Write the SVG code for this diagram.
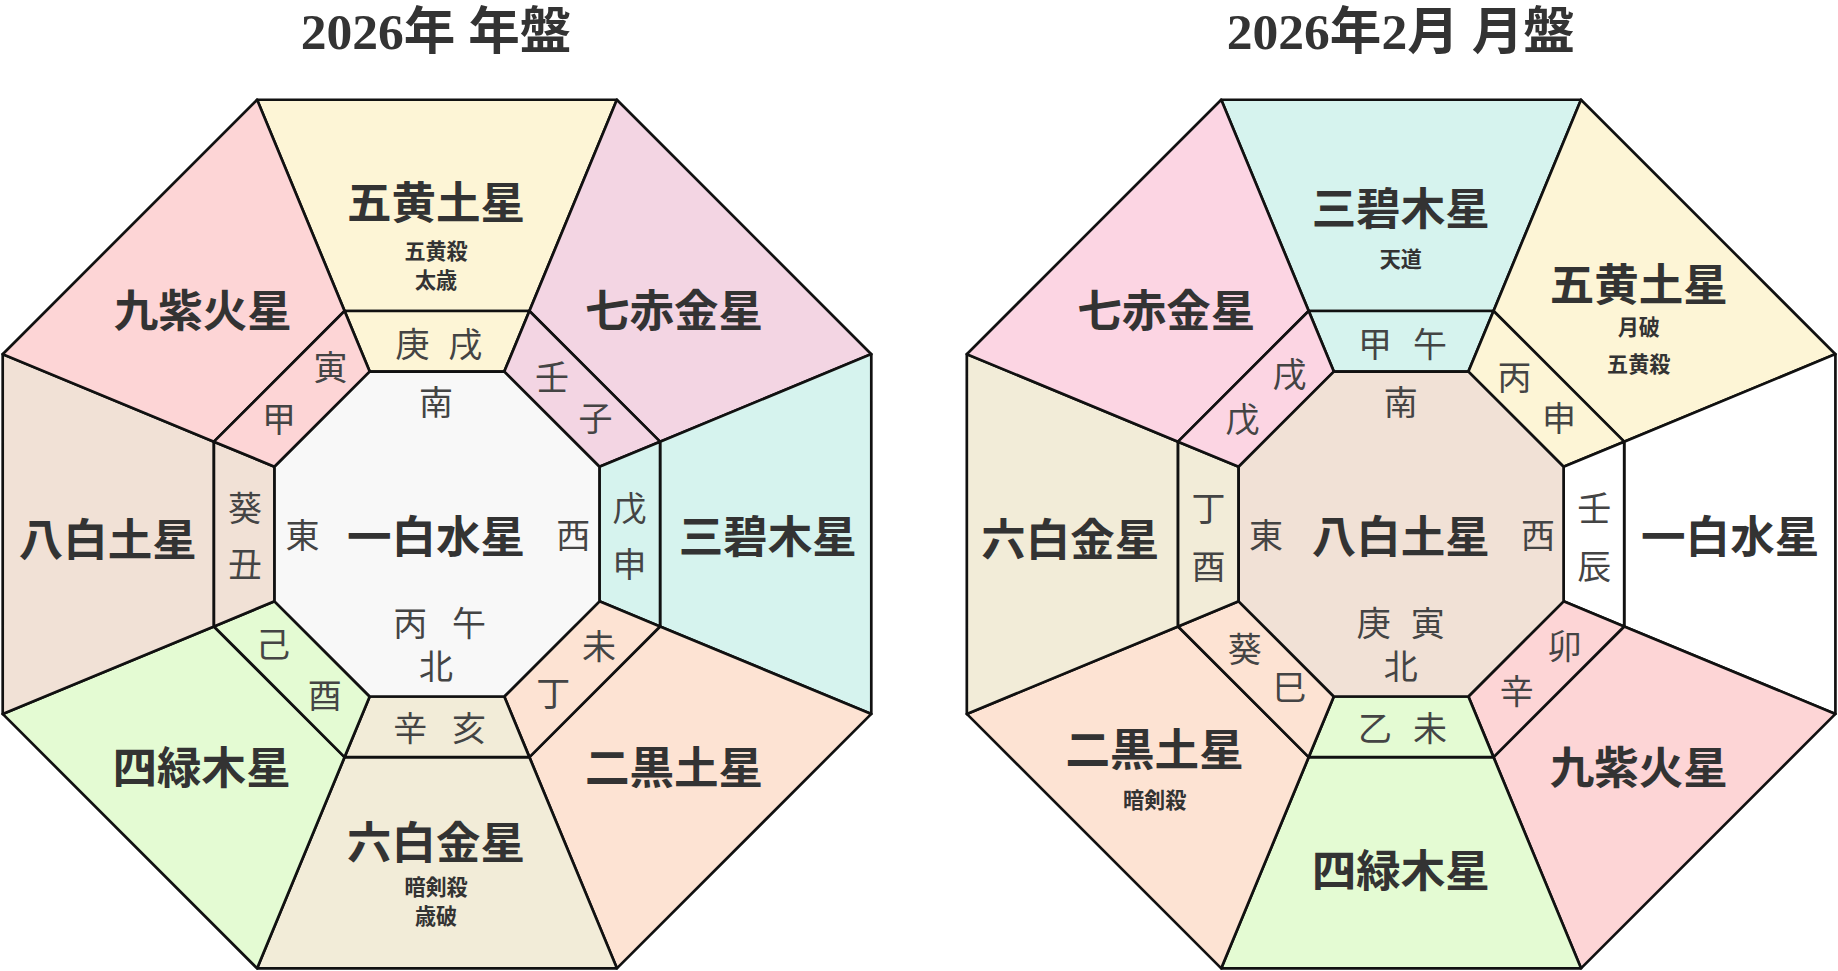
<svg xmlns="http://www.w3.org/2000/svg" width="1838" height="971" viewBox="0 0 1838 971">
<style>
text{font-family:"Noto Sans CJK JP","Noto Sans CJK SC",sans-serif;fill:#333;text-anchor:middle;dominant-baseline:central}
.t{font-family:"Liberation Serif","Noto Sans CJK JP",serif;font-size:44px;font-weight:bold}
.s{font-size:38px;font-weight:bold}
.c{font-size:18px;font-weight:bold}
.r{font-size:29px;fill:#444}
polygon{stroke:#111;stroke-width:2.3;stroke-linejoin:round}
</style>
<defs>
<polygon id="so" points="-153.5,-370.5 153.5,-370.5 78.8,-190.3 -78.8,-190.3"/>
<polygon id="sr" points="-78.8,-190.3 78.8,-190.3 57.4,-138.6 -57.4,-138.6"/>
<polygon id="si" points="-57.4,-138.6 57.4,-138.6 138.6,-57.4 138.6,57.4 57.4,138.6 -57.4,138.6 -138.6,57.4 -138.6,-57.4"/>
</defs>
<rect width="1838" height="971" fill="#fff"/>
<g transform="scale(1.17219)">
<g id="chart-left" transform="translate(372.8,455.6)">
<use href="#so" fill="#fdf5d6"/><use href="#sr" fill="#fdf5d6"/>
<use href="#so" fill="#f3d5e3" transform="rotate(45)"/><use href="#sr" fill="#f3d5e3" transform="rotate(45)"/>
<use href="#so" fill="#d6f3ee" transform="rotate(90)"/><use href="#sr" fill="#d6f3ee" transform="rotate(90)"/>
<use href="#so" fill="#fde3d3" transform="rotate(135)"/><use href="#sr" fill="#fde3d3" transform="rotate(135)"/>
<use href="#so" fill="#f2ecd8" transform="rotate(180)"/><use href="#sr" fill="#f2ecd8" transform="rotate(180)"/>
<use href="#so" fill="#e4fbd3" transform="rotate(225)"/><use href="#sr" fill="#e4fbd3" transform="rotate(225)"/>
<use href="#so" fill="#f1e1d6" transform="rotate(270)"/><use href="#sr" fill="#f1e1d6" transform="rotate(270)"/>
<use href="#so" fill="#fdd5d6" transform="rotate(315)"/><use href="#sr" fill="#fdd5d6" transform="rotate(315)"/>
<use href="#si" fill="#f8f8f8"/>
</g>
<g id="chart-right" transform="translate(1195.3,455.6)">
<use href="#so" fill="#d6f3ee"/><use href="#sr" fill="#d6f3ee"/>
<use href="#so" fill="#fdf5d6" transform="rotate(45)"/><use href="#sr" fill="#fdf5d6" transform="rotate(45)"/>
<use href="#so" fill="#ffffff" transform="rotate(90)"/><use href="#sr" fill="#ffffff" transform="rotate(90)"/>
<use href="#so" fill="#fdd5d6" transform="rotate(135)"/><use href="#sr" fill="#fdd5d6" transform="rotate(135)"/>
<use href="#so" fill="#e4fbd3" transform="rotate(180)"/><use href="#sr" fill="#e4fbd3" transform="rotate(180)"/>
<use href="#so" fill="#fde3d3" transform="rotate(225)"/><use href="#sr" fill="#fde3d3" transform="rotate(225)"/>
<use href="#so" fill="#f2ecd8" transform="rotate(270)"/><use href="#sr" fill="#f2ecd8" transform="rotate(270)"/>
<use href="#so" fill="#fcd5e3" transform="rotate(315)"/><use href="#sr" fill="#fcd5e3" transform="rotate(315)"/>
<use href="#si" fill="#f1e1d6"/>
</g>
<g id="labels-left">
<text class="t" x="372" y="27">2026年 年盤</text>
<text class="s" x="372" y="170">五黄土星</text>
<text class="c" x="372" y="213">五黄殺</text>
<text class="c" x="372" y="238">太歳</text>
<text class="s" x="173" y="262">九紫火星</text>
<text class="s" x="575" y="262">七赤金星</text>
<text class="s" x="92" y="458">八白土星</text>
<text class="s" x="655" y="455">三碧木星</text>
<text class="s" x="172" y="652">四緑木星</text>
<text class="s" x="575" y="652">二黒土星</text>
<text class="s" x="372" y="716">六白金星</text>
<text class="c" x="372" y="756">暗剣殺</text>
<text class="c" x="372" y="781">歳破</text>
<text class="s" x="372" y="455">一白水星</text>
<text class="r" x="258" y="455">東</text>
<text class="r" x="489" y="455">西</text>
<text class="r" x="372" y="342">南</text>
<text class="r" x="350" y="530">丙</text>
<text class="r" x="400" y="530">午</text>
<text class="r" x="372" y="567">北</text>
<text class="r" x="352" y="292">庚</text>
<text class="r" x="397" y="292">戌</text>
<text class="r" x="282" y="312">寅</text>
<text class="r" x="238" y="356">甲</text>
<text class="r" x="471" y="320">壬</text>
<text class="r" x="508" y="355">子</text>
<text class="r" x="209" y="432">葵</text>
<text class="r" x="209" y="480">丑</text>
<text class="r" x="537" y="432">戊</text>
<text class="r" x="537" y="480">申</text>
<text class="r" x="233" y="548">己</text>
<text class="r" x="277" y="592">酉</text>
<text class="r" x="511" y="550">未</text>
<text class="r" x="472" y="590">丁</text>
<text class="r" x="350" y="620">辛</text>
<text class="r" x="400" y="620">亥</text>
</g>
<g id="labels-right">
<text class="t" x="1195" y="27">2026年2月 月盤</text>
<text class="s" x="1195" y="175">三碧木星</text>
<text class="c" x="1195" y="220">天道</text>
<text class="s" x="1398" y="240">五黄土星</text>
<text class="c" x="1398" y="278">月破</text>
<text class="c" x="1398" y="310">五黄殺</text>
<text class="s" x="995" y="262">七赤金星</text>
<text class="s" x="913" y="458">六白金星</text>
<text class="s" x="1476" y="455">一白水星</text>
<text class="s" x="985" y="637">二黒土星</text>
<text class="c" x="985" y="682">暗剣殺</text>
<text class="s" x="1398" y="652">九紫火星</text>
<text class="s" x="1195" y="740">四緑木星</text>
<text class="s" x="1195" y="455">八白土星</text>
<text class="r" x="1080" y="455">東</text>
<text class="r" x="1312" y="455">西</text>
<text class="r" x="1195" y="342">南</text>
<text class="r" x="1172" y="530">庚</text>
<text class="r" x="1218" y="530">寅</text>
<text class="r" x="1195" y="567">北</text>
<text class="r" x="1173" y="292">甲</text>
<text class="r" x="1220" y="292">午</text>
<text class="r" x="1100" y="318">戌</text>
<text class="r" x="1060" y="356">戊</text>
<text class="r" x="1292" y="320">丙</text>
<text class="r" x="1330" y="355">申</text>
<text class="r" x="1031" y="432">丁</text>
<text class="r" x="1031" y="482">酉</text>
<text class="r" x="1360" y="432">壬</text>
<text class="r" x="1360" y="482">辰</text>
<text class="r" x="1062" y="552">葵</text>
<text class="r" x="1100" y="585">巳</text>
<text class="r" x="1335" y="550">卯</text>
<text class="r" x="1294" y="588">辛</text>
<text class="r" x="1173" y="620">乙</text>
<text class="r" x="1220" y="620">未</text>
</g>
</g>
</svg>
